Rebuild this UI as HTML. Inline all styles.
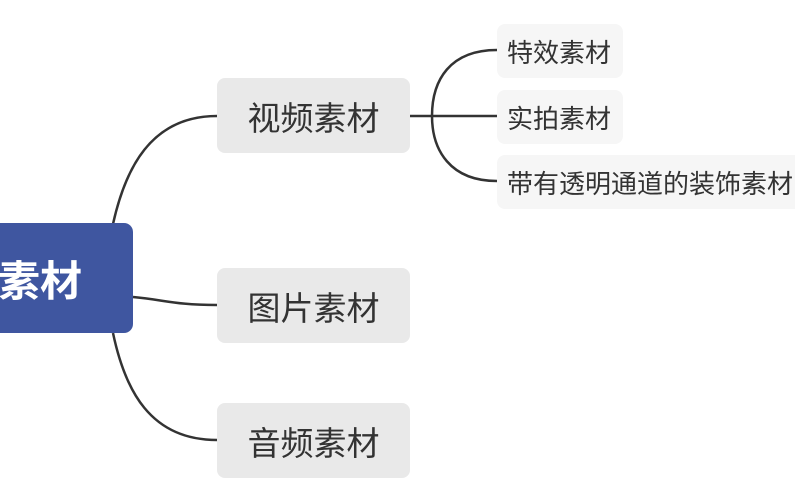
<!DOCTYPE html>
<html><head><meta charset="utf-8"><style>
body{margin:0;width:795px;height:500px;background:#fff;position:relative;overflow:hidden;font-family:"Liberation Sans","Noto Sans CJK SC",sans-serif}
.b{position:absolute;display:flex;align-items:center;box-sizing:border-box}
.l1{background:#e9e9e9;border-radius:8px;width:193px;height:75px;justify-content:center;font-size:33px;color:#333}
.l2{background:#f6f6f6;border-radius:8px;height:54px;padding-left:10px;font-size:26px;color:#333;white-space:nowrap}
</style></head><body>
<svg width="795" height="500" style="position:absolute;left:0;top:0" fill="none" stroke="#333" stroke-width="2.5">
<path d="M113 224 C125 170,150 116,217 116"/>
<path d="M133 297 C165 300,175 305,217 305"/>
<path d="M113 333 C125 390,150 440,217 440"/>
<path d="M410 116 L497 116"/>
<path d="M432 116 C432 80,450 50,497 50"/>
<path d="M432 116 C432 150,450 181,497 181"/>
</svg>
<div class="b" style="left:-20px;top:223px;width:153px;height:110px;background:#3f56a0;border-radius:9px;color:#fff;font-size:42px;font-weight:bold;padding-left:18px">素材</div>
<div class="b l1" style="left:217px;top:78px">视频素材</div>
<div class="b l1" style="left:217px;top:268px">图片素材</div>
<div class="b l1" style="left:217px;top:403px">音频素材</div>
<div class="b l2" style="left:497px;top:24px;width:126px">特效素材</div>
<div class="b l2" style="left:497px;top:90px;width:126px">实拍素材</div>
<div class="b l2" style="left:497px;top:155px;width:330px">带有透明通道的装饰素材</div>
</body></html>
